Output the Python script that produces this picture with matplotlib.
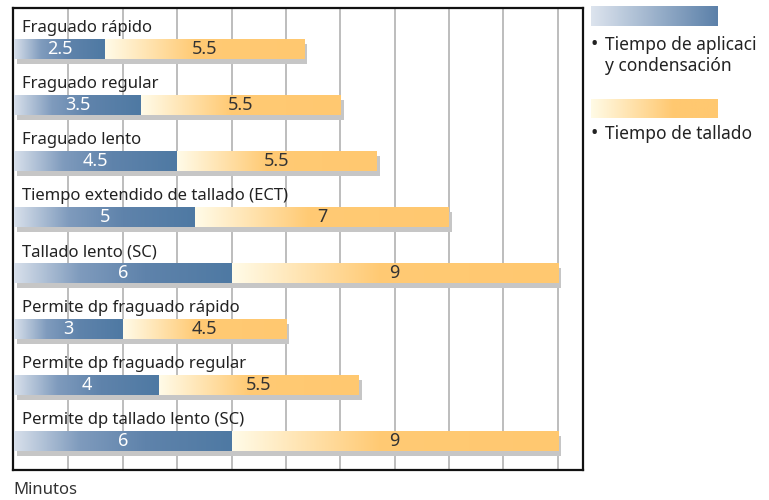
import numpy as np
import matplotlib.pyplot as plt
from matplotlib.colors import LinearSegmentedColormap
import matplotlib.patheffects as pe

plt.rcParams['font.family'] = ['Noto Sans', 'DejaVu Sans']

categorias = ['Fraguado rápido', 'Fraguado regular', 'Fraguado lento',
              'Tiempo extendido de tallado (ECT)', 'Tallado lento (SC)',
              'Permite dp fraguado rápido', 'Permite dp fraguado regular',
              'Permite dp tallado lento (SC)']
aplicacion = [2.5, 3.5, 4.5, 5, 6, 3, 4, 6]
tallado = [5.5, 5.5, 5.5, 7, 9, 4.5, 5.5, 9]
xtick_grid = np.arange(1.5, 15.1, 1.5)

azul = LinearSegmentedColormap.from_list('azul', [(0, '#d8e0eb'), (0.3, '#7f9bbd'), (0.6, '#5f83ab'), (1, '#4e79a3')])
naranja = LinearSegmentedColormap.from_list('naranja', [(0, '#fffbe8'), (0.45, '#ffca74'), (1, '#ffc870')])
azul_ley = LinearSegmentedColormap.from_list('azul_ley', ['#dde4ee', '#5b80a9'])
naranja_ley = LinearSegmentedColormap.from_list('naranja_ley', [(0, '#fffbe6'), (0.65, '#ffc870'), (1, '#ffc870')])
grad = np.linspace(0, 1, 256).reshape(1, -1)

fig = plt.figure(figsize=(7.69, 5), dpi=100)
ax = fig.add_axes([13/769, 30/500, 570/769, 462/500])

y = np.arange(len(categorias))
h = 0.36
total = np.array(aplicacion) + np.array(tallado)

# sombra gris
ax.barh(y, total, height=h, color='#c8c8c8', zorder=2,
        path_effects=[pe.SimplePatchShadow(offset=(2.4, -3.4), shadow_rgbFace='#c6c6c6', alpha=1)])
b1 = ax.barh(y, aplicacion, height=h, color='none', zorder=3)
b2 = ax.barh(y, tallado, left=aplicacion, height=h, color='none', zorder=3)

for barras, cm in [(b1, azul), (b2, naranja)]:
    for p in barras:
        x0, y0 = p.get_x(), p.get_y()
        im = ax.imshow(grad, cmap=cm, aspect='auto', zorder=3,
                       extent=[x0, x0 + p.get_width(), y0, y0 + p.get_height()])
        im.set_clip_path(p)

for i, cat in enumerate(categorias):
    ax.text(0.22, i - 0.37, cat, va='center', ha='left', fontsize=12, color='#222222', zorder=5)
    ax.text(aplicacion[i] / 2, i + 0.01, f'{aplicacion[i]:g}', va='center', ha='center',
            fontsize=13, color='white', zorder=5)
    ax.text(aplicacion[i] + tallado[i] / 2, i + 0.01, f'{tallado[i]:g}', va='center', ha='center',
            fontsize=13, color='#333333', zorder=5)

ax.set_xlim(-0.03, 15.7)
ax.set_ylim(7.52, -0.73)
ax.set_xticks(xtick_grid)
ax.set_yticks([])
ax.grid(axis='x', color='#b8b8b8', lw=1.3)
ax.set_axisbelow(True)
ax.tick_params(length=0, labelbottom=False)
for s in ax.spines.values():
    s.set_linewidth(1.6)
    s.set_color('#111111')

fig.text(13/769, 1 - 490/500, 'Minutos', va='center', ha='left', fontsize=12, color='#333333')

# leyenda
l1 = fig.add_axes([591/769, 1 - 26/500, 127/769, 20/500])
l1.imshow(grad, cmap=azul_ley, aspect='auto')
l1.axis('off')
l2 = fig.add_axes([591/769, 1 - 118/500, 127/769, 19/500])
l2.imshow(grad, cmap=naranja_ley, aspect='auto')
l2.axis('off')

fig.text(590/769, 1 - 45/500, '•', va='center', ha='left', fontsize=14, color='#222222')
fig.text(605/769, 1 - 45/500, 'Tiempo de aplicaci', va='center', ha='left', fontsize=12.5, color='#222222')
fig.text(605/769, 1 - 66/500, 'y condensación', va='center', ha='left', fontsize=12.5, color='#222222')
fig.text(590/769, 1 - 134/500, '•', va='center', ha='left', fontsize=14, color='#222222')
fig.text(605/769, 1 - 134/500, 'Tiempo de tallado', va='center', ha='left', fontsize=12.5, color='#222222')

fig.savefig('out.png', dpi=100)
